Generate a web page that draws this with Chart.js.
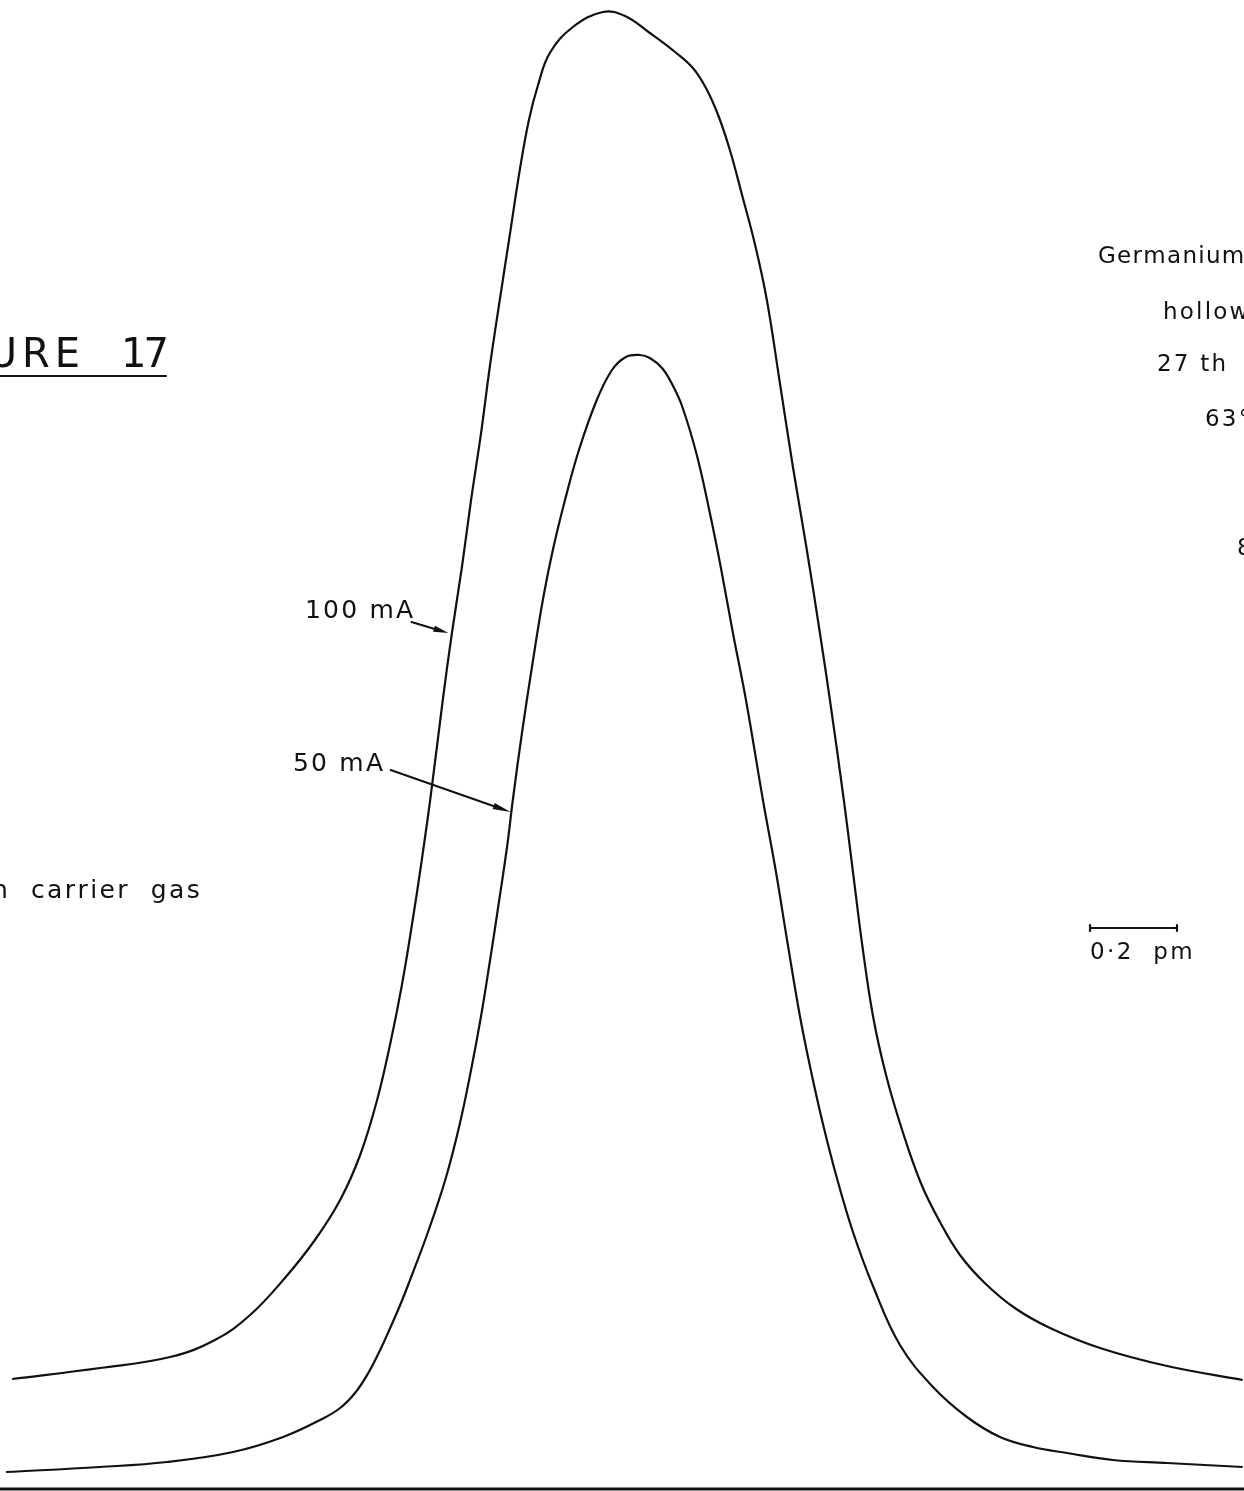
<!DOCTYPE html>
<html>
<head>
<meta charset="utf-8">
<script src="https://cdn.jsdelivr.net/npm/chart.js@4.4.1/dist/chart.umd.min.js"></script>
<style>
  html, body { margin: 0; padding: 0; background: #ffffff; }
  #wrap { width: 1244px; height: 1491px; position: relative; }
</style>
</head>
<body>
<div id="wrap"><canvas id="c"></canvas></div>
<script>
// Wavelength offset (pm) and absorbance signal (arbitrary units) for each lamp current
const offset100 = [0.028,0.230,0.391,0.494,0.575,0.655,0.724,0.782,0.828,0.867,0.899,0.924,0.947,0.968,0.989,1.018,1.039,1.062,1.083,1.106,1.126,1.149,1.172,1.195,1.216,1.237,1.264,1.317,1.386,1.437,1.494,1.552,1.593,1.623,1.651,1.678,1.706,1.736,1.763,1.793,1.823,1.855,1.885,1.908,1.940,1.961,1.982,2.007,2.037,2.074,2.117,2.161,2.207,2.264,2.333,2.414,2.529,2.683,2.857];
const abs100    = [11.0,12.1,13.2,14.9,17.4,21.1,24.9,28.9,33.4,38.9,44.9,50.4,56.4,62.4,68.9,78.9,85.6,92.2,98.9,105.6,112.2,118.9,125.4,131.9,136.9,140.4,143.6,146.2,147.7,147.3,145.6,143.7,142.1,140.1,137.4,133.9,129.4,124.4,118.9,110.6,102.2,93.9,85.6,78.9,68.9,61.7,54.5,47.3,41.4,35.9,30.6,26.7,23.4,20.6,18.1,16.1,14.1,12.3,10.9];

const offset50  = [0.014,0.230,0.384,0.536,0.651,0.736,0.782,0.818,0.848,0.874,0.897,0.920,0.940,0.984,1.025,1.057,1.083,1.106,1.126,1.145,1.166,1.179,1.200,1.223,1.248,1.271,1.299,1.331,1.372,1.407,1.439,1.471,1.494,1.522,1.545,1.568,1.602,1.632,1.657,1.685,1.715,1.754,1.784,1.811,1.839,1.864,1.892,1.924,1.961,2.007,2.069,2.145,2.223,2.299,2.375,2.453,2.559,2.683,2.857];
const abs50     = [1.7,2.2,2.7,3.7,5.2,6.9,8.1,9.7,11.7,13.9,16.1,18.4,20.6,25.7,31.1,36.5,41.9,47.3,52.7,58.1,64.3,68.9,75.6,82.2,88.9,93.9,98.9,103.9,108.9,111.9,113.2,113.4,113.1,112.1,110.5,108.3,103.4,97.6,92.2,85.6,78.9,68.9,61.7,54.5,47.3,41.9,36.5,31.1,25.7,20.3,14.4,10.2,7.2,5.2,4.2,3.6,2.9,2.6,2.2];

const baselineX = [0, 2.86];
const baselineY = [0, 0];

const seriesLabels = ['100 mA', '50 mA'];
// where each current label's arrow touches its trace (pm, signal)
const arrowTip100 = [1.031, 85.6];
const arrowTip50  = [1.174, 67.7];

// scale bar: 0.2 pm
const scaleBarStart = 2.506;
const scaleBarLength = 0.2;
const scaleBarLevel = 56.1;
const scaleBarLabel = '0\u00b72  pm';

const captionLines = ['Germanium', 'hollow cathode lamp', '27 th', '63\u00b0', '8'];
const figureTitle = ['FIGURE', '17'];
const gasNote = 'n  carrier  gas';

const toPoints = (xs, ys) => xs.map((x, i) => ({ x: x, y: ys[i] }));

const FONT = '"DejaVu Sans", "Liberation Sans", sans-serif';

// draw a string with extra letter gap (plotter-style lettering)
function spacedText(ctx, str, x, y, size, gap, weight) {
  ctx.font = (weight || 'normal') + ' ' + size + 'px ' + FONT;
  let cx = x;
  Array.from(str).forEach(c => {
    ctx.fillText(c, cx, y);
    cx += ctx.measureText(c).width + gap;
  });
  return cx - gap;
}

function textWidth(ctx, str, size, gap, weight) {
  ctx.font = (weight || 'normal') + ' ' + size + 'px ' + FONT;
  let w = 0;
  Array.from(str).forEach(c => { w += ctx.measureText(c).width + gap; });
  return w - gap;
}

function arrow(ctx, x0, y0, x1, y1, head) {
  const ang = Math.atan2(y1 - y0, x1 - x0);
  const c = Math.cos(ang), s = Math.sin(ang);
  ctx.beginPath();
  ctx.moveTo(x0, y0);
  ctx.lineTo(x1 - c * head * 0.6, y1 - s * head * 0.6);
  ctx.stroke();
  ctx.beginPath();
  ctx.moveTo(x1, y1);
  ctx.lineTo(x1 - head * c + 3.2 * s, y1 - head * s - 3.2 * c);
  ctx.lineTo(x1 - head * c - 3.2 * s, y1 - head * s + 3.2 * c);
  ctx.closePath();
  ctx.fill();
}

const annotations = {
  id: 'annotations',
  beforeDraw(chart) {
    const ctx = chart.ctx;
    ctx.save();
    ctx.fillStyle = '#ffffff';
    ctx.fillRect(0, 0, chart.width, chart.height);
    ctx.restore();
  },
  afterDraw(chart) {
    const ctx = chart.ctx;
    const xs = chart.scales.x, ys = chart.scales.y;
    ctx.save();
    ctx.fillStyle = '#111111';
    ctx.strokeStyle = '#111111';
    ctx.textBaseline = 'alphabetic';
    ctx.lineCap = 'round';

    // figure title, cut by the left edge, underlined
    const titleW = textWidth(ctx, figureTitle[0], 40, 5);
    spacedText(ctx, figureTitle[0], 80 - titleW, 367, 40, 5);
    spacedText(ctx, figureTitle[1], 121, 367, 40, -3);
    ctx.lineWidth = 2;
    ctx.beginPath(); ctx.moveTo(0, 376); ctx.lineTo(166, 376); ctx.stroke();

    // gas note
    spacedText(ctx, gasNote, -8, 898, 25, 2.4);

    // lamp details on the right
    spacedText(ctx, captionLines[0], 1098, 263, 23, 1.3);
    spacedText(ctx, captionLines[1], 1163, 319, 23, 2.2);
    spacedText(ctx, captionLines[2], 1157, 371, 23, 2.2);
    spacedText(ctx, captionLines[3], 1205, 426, 23, 2.2);
    spacedText(ctx, captionLines[4], 1237, 555, 23, 2.2);

    // current labels with arrows
    const t100 = [xs.getPixelForValue(arrowTip100[0]), ys.getPixelForValue(arrowTip100[1])];
    const t50 = [xs.getPixelForValue(arrowTip50[0]), ys.getPixelForValue(arrowTip50[1])];
    spacedText(ctx, seriesLabels[0], 305, 618, 25, 2.2);
    spacedText(ctx, seriesLabels[1], 293, 771, 25, 2.2);
    ctx.lineWidth = 2;
    arrow(ctx, t100[0] - 37, t100[1] - 11, t100[0], t100[1], 15);
    arrow(ctx, t50[0] - 120, t50[1] - 42, t50[0], t50[1], 18);

    // scale bar
    const bx0 = xs.getPixelForValue(scaleBarStart);
    const bx1 = xs.getPixelForValue(scaleBarStart + scaleBarLength);
    const by = ys.getPixelForValue(scaleBarLevel);
    ctx.lineWidth = 2.2;
    ctx.beginPath();
    ctx.moveTo(bx0, by); ctx.lineTo(bx1, by);
    ctx.moveTo(bx0, by - 3); ctx.lineTo(bx0, by + 3);
    ctx.moveTo(bx1, by - 3); ctx.lineTo(bx1, by + 3);
    ctx.stroke();
    spacedText(ctx, scaleBarLabel, bx0, by + 31, 23, 2.4);

    ctx.restore();
  }
};

new Chart(document.getElementById('c'), {
  type: 'line',
  data: {
    datasets: [
      { label: seriesLabels[0], data: toPoints(offset100, abs100), borderColor: '#111111', borderWidth: 2.2, pointRadius: 0, tension: 0.4, fill: false },
      { label: seriesLabels[1], data: toPoints(offset50, abs50), borderColor: '#111111', borderWidth: 2.2, pointRadius: 0, tension: 0.4, fill: false },
      { label: 'baseline', data: toPoints(baselineX, baselineY), borderColor: '#111111', borderWidth: 3, pointRadius: 0, tension: 0, fill: false }
    ]
  },
  options: {
    responsive: true,
    maintainAspectRatio: false,
    animation: false,
    events: [],
    layout: { padding: 0 },
    plugins: { legend: { display: false }, tooltip: { enabled: false }, title: { display: false } },
    scales: {
      x: { type: 'linear', min: 0, max: 2.86, display: false },
      y: { type: 'linear', min: -0.2, max: 148.9, display: false }
    }
  },
  plugins: [annotations]
});
</script>
</body>
</html>
